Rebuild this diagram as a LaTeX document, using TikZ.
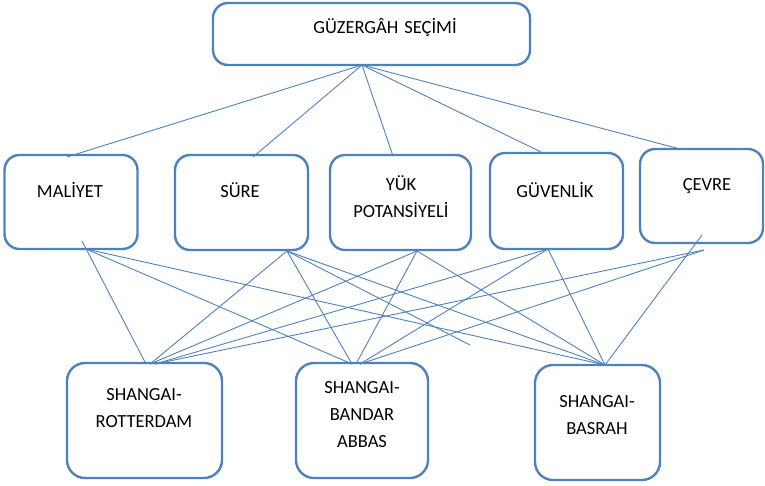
\documentclass[tikz,border=0pt]{standalone}
\usepackage{fontspec}
\setmainfont{Carlito}
\definecolor{obl}{RGB}{79,129,189}
\begin{document}
\begin{tikzpicture}[x=1pt,y=-1pt,
  box/.style={draw=obl, line width=2.4pt, rounded corners=15pt, fill=white, inner sep=0pt, outer sep=0pt},
  lbl/.style={font=\fontsize{18.5}{27}\selectfont, align=center, text=black, inner sep=0pt},
  conn/.style={draw=obl, line width=0.9pt}]
\useasboundingbox (0,0) rectangle (765,485);
% boxes
\node[box, minimum width=317pt, minimum height=62pt] (top) at (371.5,34) {};
\node[box, minimum width=133pt, minimum height=94pt] (mal) at (71,202) {};
\node[box, minimum width=133pt, minimum height=95pt] (sure) at (241.5,202.5) {};
\node[box, minimum width=141pt, minimum height=95pt] (yuk) at (400.5,202.5) {};
\node[box, minimum width=133pt, minimum height=96pt] (guv) at (556.5,201) {};
\node[box, minimum width=123pt, minimum height=94pt] (cev) at (701.5,196) {};
\node[box, rounded corners=18pt, minimum width=155pt, minimum height=115pt] (sr) at (144.5,420.5) {};
\node[box, rounded corners=18pt, minimum width=132pt, minimum height=115pt] (sba) at (362,420.5) {};
\node[box, rounded corners=18pt, minimum width=125pt, minimum height=115pt] (sb) at (597.5,422.5) {};
% labels
\node[lbl] (ttop) at (385,27) {GÜZERGÂH\hspace{6pt}SEÇİMİ};
\node[lbl] (tmal) at (70,190) {MALİYET};
\node[lbl] (tsure) at (240,190) {SÜRE};
\node[lbl, anchor=north] (tyuk) at (401,175) {YÜK\\POTANSİYELİ};
\node[lbl] (tguv) at (555,190) {GÜVENLİK};
\node[lbl] (tcev) at (707,186) {ÇEVRE};
\node[lbl, anchor=north] (tsr) at (144,388) {SHANGAI-\\ROTTERDAM};
\node[lbl, anchor=north] (tsba) at (362,381) {SHANGAI-\\BANDAR\\ABBAS};
\node[lbl, anchor=north] (tsb) at (597,395) {SHANGAI-\\BASRAH};
% connection points
\coordinate (hub) at (362,65);
\coordinate (m1) at (67,157);
\coordinate (s1) at (253,157);
\coordinate (y1) at (393,156);
\coordinate (g1) at (543,153);
\coordinate (c1) at (680,149);
\coordinate (pM) at (86,249);
\coordinate (pM0) at (82,241);
\coordinate (pS) at (287,251);
\coordinate (pY) at (417,251);
\coordinate (pG) at (548,249);
\coordinate (pC) at (704,250);
\coordinate (pC2) at (702,235);
\coordinate (eR1) at (146,364);
\coordinate (eR2) at (150,364);
\coordinate (eR3) at (155,364);
\coordinate (eA1) at (352,364);
\coordinate (eA2) at (356,364);
\coordinate (eA3) at (360,364);
\coordinate (eB) at (605,365);
\coordinate (stray) at (470,345);
% top connectors
\draw[conn] (hub) -- (m1);
\draw[conn] (hub) -- (s1);
\draw[conn] (hub) -- (y1);
\draw[conn] (hub) -- (g1);
\draw[conn] (hub) -- (c1);
% lower connectors
\draw[conn] (pM0) -- (eR1);
\draw[conn] (pM) -- (eA1);
\draw[conn] (pM) -- (eB);
\draw[conn] (pS) -- (eR2);
\draw[conn] (pS) -- (eA1);
\draw[conn] (pS) -- (eB);
\draw[conn] (pS) -- (stray);
\draw[conn] (pY) -- (eR2);
\draw[conn] (pY) -- (eA2);
\draw[conn] (pY) -- (eB);
\draw[conn] (pG) -- (eR3);
\draw[conn] (pG) -- (eA3);
\draw[conn] (pG) -- (eB);
\draw[conn] (pC) -- (eR3);
\draw[conn] (pC) -- (eA3);
\draw[conn] (pC2) -- (eB);
\end{tikzpicture}
\end{document}
